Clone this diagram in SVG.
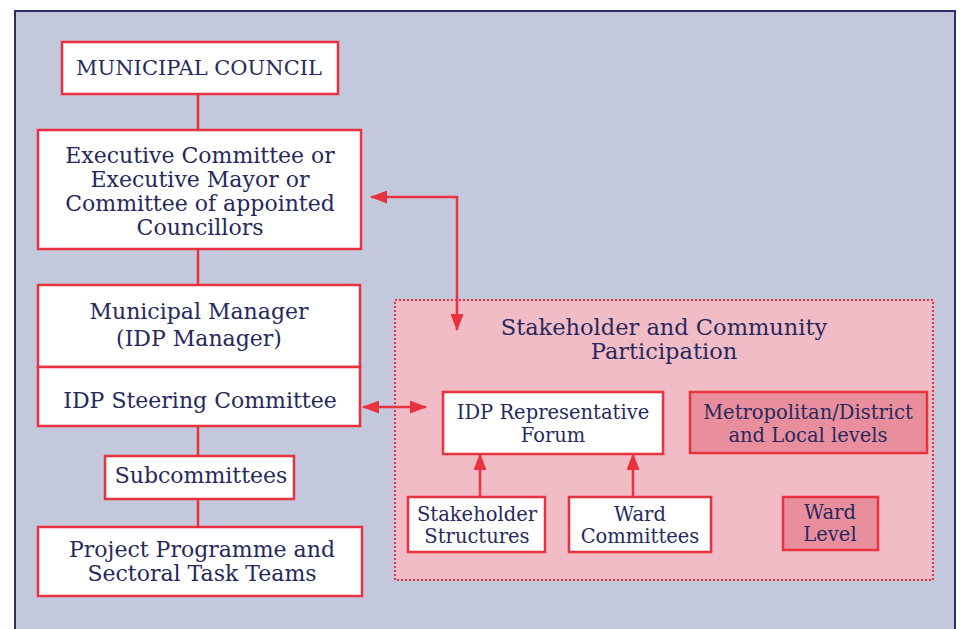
<svg xmlns="http://www.w3.org/2000/svg" width="962" height="629" viewBox="0 0 962 629">
  <style>
    .box { fill: #ffffff; stroke: #e8323f; stroke-width: 2.5; }
    .level { fill: #e98e9c; stroke: #e8323f; stroke-width: 2.5; }
    .zone { fill: #f2bcc6; stroke: #e8323f; stroke-width: 2; stroke-dasharray: 2 2; }
    .link { stroke: #e8323f; stroke-width: 2.5; fill: none; }
    .arrow { stroke: #e8323f; stroke-width: 2.5; fill: none; }
    text { font-family: "DejaVu Serif", "Liberation Serif", serif; fill: #27295c; text-anchor: middle; }
    .t22 { font-size: 22px; }
    .t18 { font-size: 19.5px; }
  </style>
  <defs>
    <marker id="head" viewBox="0 0 17 13" refX="16" refY="6.5" markerWidth="17" markerHeight="13" markerUnits="userSpaceOnUse" orient="auto-start-reverse">
      <path d="M0,0 L17,6.5 L0,13 Z" fill="#e8323f"/>
    </marker>
  </defs>

  <!-- page and frame -->
  <rect x="0" y="0" width="962" height="629" fill="#ffffff"/>
  <rect x="15" y="11" width="940" height="640" fill="#c4c8dc" stroke="#2b2d6b" stroke-width="2"/>

  <!-- participation zone -->
  <g id="participation">
    <rect class="zone" x="395" y="300" width="538" height="280"/>
    <text x="664" y="335" style="font-size:22.5px">Stakeholder and Community</text>
    <text x="664" y="359" style="font-size:22.5px">Participation</text>
  </g>

  <!-- connectors -->
  <g id="connectors">
    <line class="link" x1="198" y1="94" x2="198" y2="130"/>
    <line class="link" x1="198" y1="249" x2="198" y2="285"/>
    <line class="link" x1="198" y1="426" x2="198" y2="456"/>
    <line class="link" x1="198" y1="499" x2="198" y2="527"/>
    <polyline class="arrow" points="371,197 457,197 457,330" marker-start="url(#head)" marker-end="url(#head)"/>
    <line class="arrow" x1="363" y1="407" x2="426" y2="407" marker-start="url(#head)" marker-end="url(#head)"/>
    <line class="arrow" x1="480" y1="497" x2="480" y2="454" marker-end="url(#head)"/>
    <line class="arrow" x1="633" y1="497" x2="633" y2="454" marker-end="url(#head)"/>
  </g>

  <g id="council">
    <rect class="box" x="62" y="42" width="276" height="52"/>
    <text x="199" y="75" style="font-size:21px">MUNICIPAL COUNCIL</text>
  </g>

  <g id="executive">
    <rect class="box" x="38" y="130" width="323" height="119"/>
    <text class="t22" x="200" y="163">Executive Committee or</text>
    <text class="t22" x="200" y="187">Executive Mayor or</text>
    <text class="t22" x="200" y="211">Committee of appointed</text>
    <text class="t22" x="200" y="235">Councillors</text>
  </g>

  <g id="manager">
    <rect class="box" x="38" y="285" width="322" height="82"/>
    <text class="t22" x="199" y="319">Municipal Manager</text>
    <text class="t22" x="199" y="346">(IDP Manager)</text>
  </g>

  <g id="steering">
    <rect class="box" x="38" y="367" width="322" height="59"/>
    <text class="t22" x="200" y="408">IDP Steering Committee</text>
  </g>

  <g id="subcommittees">
    <rect class="box" x="105" y="456" width="189" height="43"/>
    <text class="t22" x="201" y="483">Subcommittees</text>
  </g>

  <g id="task-teams">
    <rect class="box" x="38" y="527" width="324" height="69"/>
    <text class="t22" x="202" y="557">Project Programme and</text>
    <text class="t22" x="202" y="581">Sectoral Task Teams</text>
  </g>

  <g id="forum">
    <rect class="box" x="443" y="392" width="220" height="62"/>
    <text class="t18" x="553" y="419">IDP Representative</text>
    <text class="t18" x="553" y="442">Forum</text>
  </g>

  <g id="metro-level">
    <rect class="level" x="690" y="392" width="237" height="61"/>
    <text class="t18" x="808" y="419">Metropolitan/District</text>
    <text class="t18" x="808" y="442">and Local levels</text>
  </g>

  <g id="stakeholder-structures">
    <rect class="box" x="408" y="497" width="137" height="55"/>
    <text class="t18" x="477" y="521">Stakeholder</text>
    <text class="t18" x="477" y="543">Structures</text>
  </g>

  <g id="ward-committees">
    <rect class="box" x="569" y="497" width="142" height="55"/>
    <text class="t18" x="640" y="521">Ward</text>
    <text class="t18" x="640" y="543">Committees</text>
  </g>

  <g id="ward-level">
    <rect class="level" x="783" y="497" width="95" height="53"/>
    <text class="t18" x="830" y="519">Ward</text>
    <text class="t18" x="830" y="541">Level</text>
  </g>
</svg>
